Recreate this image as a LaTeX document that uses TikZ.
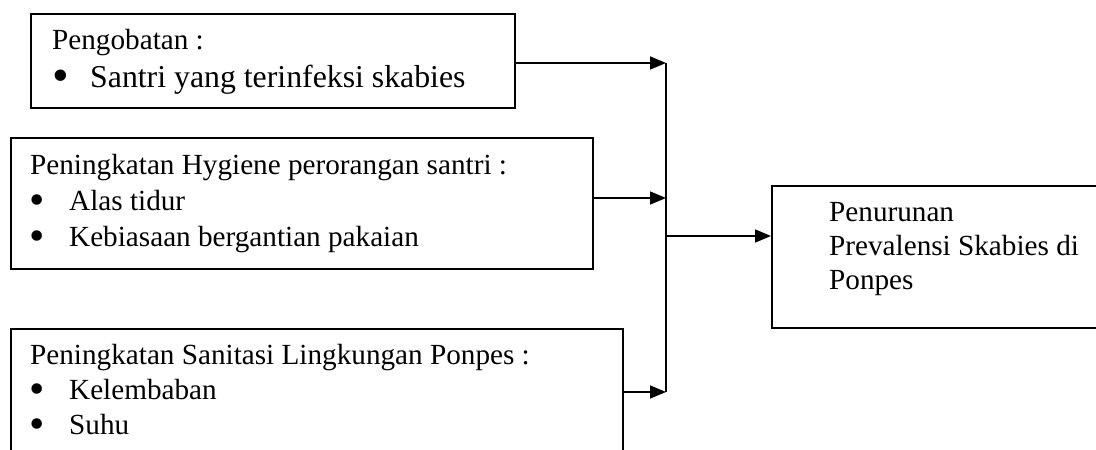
\documentclass[tikz,border=0pt]{standalone}
\usepackage{fontspec}
\setmainfont{Liberation Serif}
\usetikzlibrary{arrows.meta}
% enlarged bullet followed by a fixed indent
\newcommand{\bigbul}{\smash{\raisebox{-0.12em}{\scalebox{1.5}{\textbullet}}}}
\newcommand{\bulitem}[2]{\makebox[#1][l]{\bigbul}#2}
\begin{document}
\begin{tikzpicture}[x=1bp,y=-1bp,
  box/.style={draw, line width=1.6bp, anchor=north west, inner sep=0pt},
  txt/.style={anchor=base west, inner sep=0pt, font=\fontsize{29.2bp}{34bp}\selectfont},
  bigtxt/.style={txt, font=\fontsize{31.8bp}{36bp}\selectfont},
  flow/.style={line width=1.6bp, -{Triangle[length=16bp,width=13bp]}},
  plain/.style={line width=1.6bp}]
\useasboundingbox (0,0) rectangle (1096,450);

% boxes
\node[box, minimum width=484bp, minimum height=94bp] (b1) at (30,13) {};
\node[box, minimum width=582bp, minimum height=131bp] (b2) at (10,137) {};
\node[box, minimum width=612bp, minimum height=160bp] (b3) at (10,328) {};
\node[box, minimum width=340bp, minimum height=142bp] (b4) at (771,185) {};

% texts of the first box
\node[txt] (t1a) at (52,50) {Pengobatan :};
\node[bigtxt] (t1b) at (52,88) {\bulitem{38bp}{Santri yang terinfeksi skabies}};

% texts of the second box
\node[txt] (t2a) at (30,175) {Peningkatan Hygiene perorangan santri :};
\node[txt] (t2b) at (29,211) {\bulitem{40bp}{Alas tidur}};
\node[txt] (t2c) at (29,247) {\bulitem{40bp}{Kebiasaan bergantian pakaian}};

% texts of the third box
\node[txt] (t3a) at (30,365) {Peningkatan Sanitasi Lingkungan Ponpes :};
\node[txt] (t3b) at (29,400) {\bulitem{40bp}{Kelembaban}};
\node[txt] (t3c) at (29,435) {\bulitem{40bp}{Suhu}};

% texts of the result box
\node[txt] (t4a) at (829,222) {Penurunan};
\node[txt] (t4b) at (829,256) {Prevalensi Skabies di};
\node[txt] (t4c) at (829,290) {Ponpes};

% collecting bus
\coordinate (j1) at (666,63);
\coordinate (j2) at (666,198);
\coordinate (j3) at (666,392);
\coordinate (jo) at (666,236);
\draw[plain] (j1) -- (j3);
\draw[flow] (b1.east |- j1) -- (j1);
\draw[flow] (b2.east |- j2) -- (j2);
\draw[flow] (b3.east |- j3) -- (j3);
\draw[flow] (jo) -- (b4.west |- jo);
\end{tikzpicture}
\end{document}
